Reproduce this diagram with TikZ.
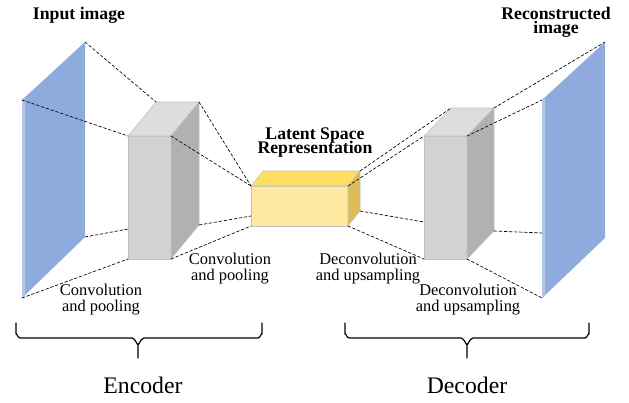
\documentclass[tikz,border=0pt]{standalone}
\usepackage{fontspec}
\setmainfont{Liberation Serif}
\definecolor{imgblue}{HTML}{8FAADC}
\definecolor{imgstrip}{HTML}{B4C7E7}
\definecolor{blkfront}{HTML}{D3D2D2}
\definecolor{blktop}{HTML}{DEDDDD}
\definecolor{blkside}{HTML}{B2B1B1}
\definecolor{latfront}{HTML}{FFE8A0}
\definecolor{lattop}{HTML}{FFDE66}
\definecolor{latside}{HTML}{DDBB58}
\definecolor{edgegray}{HTML}{C2C2C2}
\newcommand{\ttlfont}{\fontsize{13.3}{10.8}\selectfont\bfseries\lineskiplimit=-20pt}
\newcommand{\lblfont}{\fontsize{12.3}{12}\selectfont\lineskiplimit=-20pt}
\begin{document}
\begin{tikzpicture}[x=0.75pt,y=-0.75pt,line cap=round,line join=round,
    face/.style={draw=edgegray,line width=0.4pt},
    conn/.style={line width=0.5pt,dash pattern=on 2.2pt off 1.6pt},
    brace/.style={line width=0.9pt},
    ttl/.style={font=\ttlfont,align=center,anchor=base,inner sep=0pt},
    lbl/.style={font=\lblfont,align=center,anchor=base,inner sep=0pt}]
  \useasboundingbox (0,0) rectangle (629,403);

  % input and reconstructed image
  \coordinate (in-tl) at (22,100);
  \coordinate (in-tr) at (85,42);
  \coordinate (in-br) at (85,237);
  \coordinate (in-bl) at (22,298);
  \coordinate (out-tl) at (542,100);
  \coordinate (out-tr) at (605,42);
  \coordinate (out-br) at (605,238);
  \coordinate (out-bl) at (542,298);
  \coordinate (out-ml) at (542,233);
  \foreach \nm in {in,out}{
    \fill[imgblue] (\nm-tl) -- (\nm-tr) -- (\nm-br) -- (\nm-bl) -- cycle;
    \fill[imgstrip] (\nm-tl) -- ++(3,-3) -- ++(0,198) -- (\nm-bl) -- cycle;
  }

  % blocks
  \foreach \nm/\x/\y/\w/\h/\dx/\dy/\fc/\tc/\sc in {
      enc/128/136/43/123/28/-34/blkfront/blktop/blkside,
      lat/251/186/97/40/12/-15/latfront/lattop/latside,
      dec/424/136/43/123/27/-28/blkfront/blktop/blkside}{
    \coordinate (\nm-ftl) at (\x,\y);
    \coordinate (\nm-ftr) at (\x+\w,\y);
    \coordinate (\nm-fbl) at (\x,\y+\h);
    \coordinate (\nm-fbr) at (\x+\w,\y+\h);
    \coordinate (\nm-btl) at (\x+\dx,\y+\dy);
    \coordinate (\nm-btr) at (\x+\w+\dx,\y+\dy);
    \coordinate (\nm-bbr) at (\x+\w+\dx,\y+\h+\dy);
    \filldraw[face,fill=\fc] (\nm-ftl) rectangle (\nm-fbr);
    \filldraw[face,fill=\tc] (\nm-ftl) -- (\nm-btl) -- (\nm-btr) -- (\nm-ftr) -- cycle;
    \filldraw[face,fill=\sc] (\nm-ftr) -- (\nm-btr) -- (\nm-bbr) -- (\nm-fbr) -- cycle;
  }
  \coordinate (enc-ml) at (128,229);
  \coordinate (lat-ml) at (251,216);
  \coordinate (dec-ml) at (424,222);

  % projection lines
  \foreach \a/\b in {in-tr/enc-btl, in-tl/enc-ftl, in-br/enc-ml, in-bl/enc-fbl,
      enc-btr/lat-ftl, enc-ftr/lat-ftl, enc-bbr/lat-ml, enc-fbr/lat-fbl,
      lat-btr/dec-btl, lat-ftr/dec-ftl, lat-bbr/dec-ml, lat-fbr/dec-fbl,
      dec-btr/out-tr, dec-ftr/out-tl, dec-bbr/out-ml, dec-fbr/out-bl}{
    \draw[conn] (\a) -- (\b);
  }

  % braces
  \foreach \l/\m/\r in {16/138/262, 345/467/589}{
    \draw[brace] (\l,323) -- (\l,334) to[out=90,in=180] (\l+4,338)
      -- (\m-6,338) to[out=0,in=-90] (\m,344) -- (\m,358);
    \draw[brace] (\r,323) -- (\r,334) to[out=90,in=0] (\r-4,338)
      -- (\m+6,338) to[out=180,in=-90] (\m,344);
  }

  % texts (base = last line)
  \node[ttl] (ttl-in) at (79,20) {Input image};
  \node[ttl] (ttl-out) at (556,34) {Reconstructed\\image};
  \node[ttl] (ttl-lat) at (315,154) {Latent Space\\Representation};
  \node[lbl] (lbl-conv1) at (101,311) {Convolution\\and pooling};
  \node[lbl] (lbl-conv2) at (230,280) {Convolution\\and pooling};
  \node[lbl] (lbl-deconv1) at (368,280) {Deconvolution\\and upsampling};
  \node[lbl] (lbl-deconv2) at (468,311) {Deconvolution\\and upsampling};
  \node[font=\fontsize{17.8}{20}\selectfont,anchor=base,inner sep=0pt] (lbl-enc) at (143,393) {Encoder};
  \node[font=\fontsize{17.8}{20}\selectfont,anchor=base,inner sep=0pt] (lbl-dec) at (467,393) {Decoder};
\end{tikzpicture}
\end{document}
